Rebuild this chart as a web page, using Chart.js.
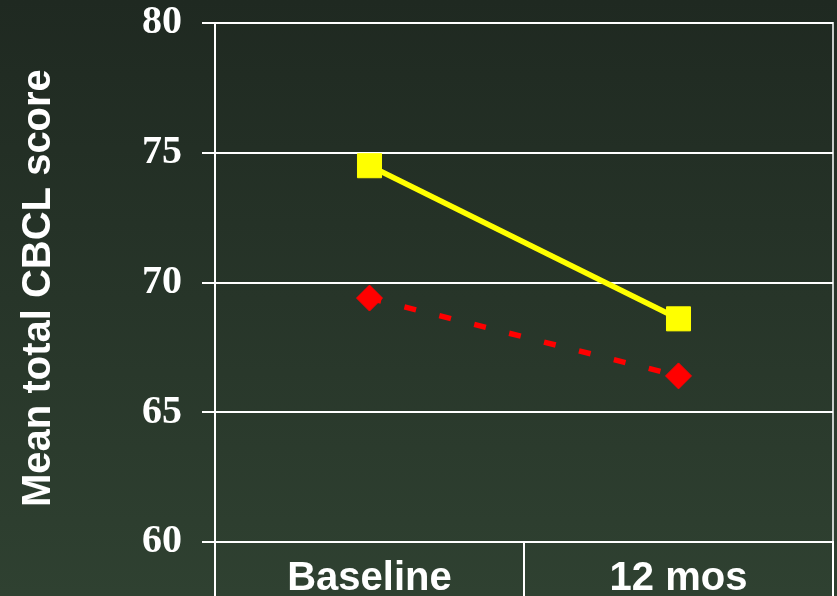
<!DOCTYPE html>
<html>
<head>
<meta charset="utf-8">
<script src="https://cdn.jsdelivr.net/npm/chart.js@4/dist/chart.umd.min.js"></script>
<style>
  html, body { margin: 0; padding: 0; background: #263228; }
  #wrap { width: 837px; height: 596px; }
</style>
</head>
<body>
<div id="wrap"><canvas id="chart" width="837" height="596"></canvas></div>
<script>
// Time points and mean total CBCL scores per group
const timepoints = ['Baseline', '12 mos'];
const groupA = [74.5, 68.6];   // yellow squares, solid line
const groupB = [69.4, 66.4];   // red diamonds, dashed line
const yTicks = [60, 65, 70, 75, 80];
// trailing space nudges the rotated, centred title slightly lower
const yTitle = 'Mean total CBCL score ';

const WHITE = '#ffffff';

// Vertical dark-green gradient behind the whole chart
const backdrop = {
  id: 'backdrop',
  beforeDraw(chart) {
    const { ctx, width, height } = chart;
    const g = ctx.createLinearGradient(0, 0, 0, height);
    g.addColorStop(0, '#1f2921');
    g.addColorStop(1, '#2f4131');
    ctx.save();
    ctx.fillStyle = g;
    ctx.fillRect(0, 0, width, height);
    ctx.restore();
  }
};

new Chart(document.getElementById('chart'), {
  type: 'line',
  data: {
    labels: timepoints,
    datasets: [
      {
        data: groupA,
        borderColor: '#ffff00',
        backgroundColor: '#ffff00',
        borderWidth: 5.5,
        pointStyle: 'rect',
        pointRadius: 17,
        pointHoverRadius: 17,
        pointBorderWidth: 1,
        yAxisID: 'y'
      },
      {
        data: groupB,
        borderColor: '#ff0000',
        backgroundColor: '#ff0000',
        borderWidth: 5.5,
        borderDash: [12, 24],
        pointStyle: 'rectRot',
        pointRadius: 13,
        pointHoverRadius: 13,
        pointBorderWidth: 1,
        yAxisID: 'y'
      }
    ]
  },
  options: {
    responsive: false,
    animation: false,
    events: [],
    layout: { autoPadding: false, padding: { top: 0, left: 0, right: 0, bottom: 0 } },
    plugins: {
      legend: { display: false },
      tooltip: { enabled: false }
    },
    scales: {
      x: {
        position: 'bottom',
        offset: true,
        grid: {
          offset: true,
          drawOnChartArea: false,
          drawTicks: true,
          tickLength: 54,
          color: WHITE,
          lineWidth: 2
        },
        border: { display: true, color: WHITE, width: 2 },
        ticks: {
          color: WHITE,
          padding: -37,
          maxRotation: 0,
          font: { family: '"Liberation Sans", Arial, sans-serif', size: 40, weight: 'bold', lineHeight: 1 }
        },
        afterFit(scale) { scale.height = 54; }
      },
      y: {
        position: 'left',
        min: 60,
        max: 80,
        afterBuildTicks(scale) { scale.ticks = yTicks.map(v => ({ value: v })); },
        grid: {
          color: WHITE,
          lineWidth: 2,
          drawTicks: true,
          tickLength: 13
        },
        border: { display: true, color: WHITE, width: 2 },
        ticks: {
          color: WHITE,
          padding: 20,
          font: { family: '"Liberation Serif", "Times New Roman", serif', size: 40, weight: 'bold', lineHeight: 0.15 }
        },
        title: {
          display: true,
          text: yTitle,
          color: WHITE,
          padding: { top: 19, bottom: 0 },
          font: { family: '"Liberation Sans", Arial, sans-serif', size: 40, weight: 'bold', lineHeight: 1 }
        },
        afterFit(scale) { scale.width = 215; }
      },
      yRight: {
        position: 'right',
        min: 60,
        max: 80,
        grid: { display: true, drawOnChartArea: false, drawTicks: false },
        border: { display: true, color: 'rgba(255,255,255,0.75)', width: 2 },
        ticks: { display: false },
        afterFit(scale) { scale.width = 4; }
      }
    }
  },
  plugins: [backdrop]
});
</script>
</body>
</html>
